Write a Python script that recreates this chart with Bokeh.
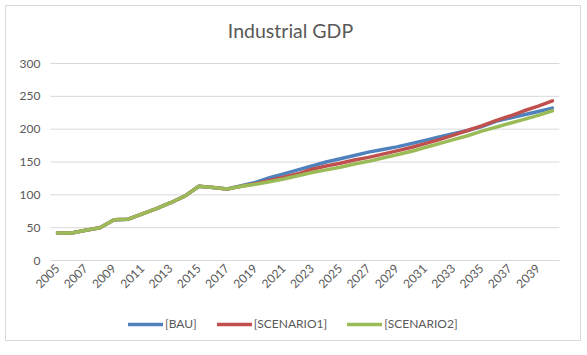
import math
from bokeh.plotting import figure
from bokeh.models import Legend, LegendItem, FixedTicker, Range1d, Label
from bokeh.embed import file_html
from bokeh.resources import INLINE

years = list(range(2005, 2041))
bau = [42, 42, 46, 50, 62, 63, 71, 79, 88, 98, 113, 111, 109,
       114, 119, 126, 132, 138, 144, 150, 155, 160, 165, 169, 173,
       178, 183, 188, 193, 198, 204, 212, 217, 222, 227, 232]
scenario1 = [42, 42, 46, 50, 62, 63, 71, 79, 88, 98, 113, 111, 109,
             113, 117, 122, 127, 132, 139, 144, 148, 153, 157, 162, 167,
             172, 178, 184, 191, 198, 205, 213, 220, 228, 235, 243]
scenario2 = [42, 42, 46, 50, 62, 63, 71, 79, 88, 98, 113, 111, 109,
             113, 116, 120, 124, 129, 134, 138, 142, 147, 151, 156, 161,
             166, 172, 178, 184, 190, 197, 203, 209, 215, 221, 228]
series_names = ["[BAU]", "[SCENARIO1]", "[SCENARIO2]"]
colors = ["#4f81bd", "#c0504d", "#9bbb59"]
x_ticks = list(range(2005, 2040, 2))
y_ticks = [0, 50, 100, 150, 200, 250, 300]
title_text = "Industrial GDP"

FONT = "Lato"
TXT = "#595959"

# plot area: categories 2005..2040 (half a slot each side), values 0..300
X0, X1 = years[0] - 0.5, years[-1] + 0.5
PX_PER_YEAR = 509 / len(years)
PX_PER_UNIT = 197 / 300
# frame covers the whole chart so that labels, legend and title sit inside it
x_range = Range1d(years[0] - 51 / PX_PER_YEAR, years[0] + 523 / PX_PER_YEAR)
y_range = Range1d(-80 / PX_PER_UNIT, 254 / PX_PER_UNIT)

p = figure(frame_width=574, frame_height=334, output_backend="svg", toolbar_location=None,
           x_range=x_range, y_range=y_range,
           min_border_left=0, min_border_right=0, min_border_top=0, min_border_bottom=0)
p.styles = {"margin-left": "5px", "margin-top": "5px", "border": "1px solid #d9d9d9"}

p.outline_line_color = None
p.background_fill_color = "white"
p.border_fill_color = "white"

p.xaxis.fixed_location = 0
p.xaxis.bounds = (X0, X1)
p.xaxis.ticker = FixedTicker(ticks=x_ticks)
p.xaxis.major_label_orientation = math.pi / 4
p.xaxis.major_tick_line_color = None
p.xaxis.minor_tick_line_color = None
p.xaxis.major_tick_out = 0
p.xaxis.major_tick_in = 0
p.xaxis.axis_line_color = "#d9d9d9"
p.xaxis.major_label_text_font = FONT
p.xaxis.major_label_text_font_size = "12px"
p.xaxis.major_label_text_color = TXT
p.xaxis.major_label_standoff = 6

p.yaxis.fixed_location = X0
p.yaxis.bounds = (y_ticks[0], y_ticks[-1])
p.yaxis.ticker = FixedTicker(ticks=y_ticks)
p.yaxis.major_tick_line_color = None
p.yaxis.minor_tick_line_color = None
p.yaxis.major_tick_out = 0
p.yaxis.major_tick_in = 0
p.yaxis.axis_line_color = None
p.yaxis.major_label_text_font = FONT
p.yaxis.major_label_text_font_size = "12px"
p.yaxis.major_label_text_color = TXT
p.yaxis.major_label_standoff = 10

p.xgrid.grid_line_color = None
p.ygrid.grid_line_color = None
# horizontal gridlines limited to the plot area
p.segment(x0=[X0] * len(y_ticks), x1=[X1] * len(y_ticks), y0=y_ticks, y1=y_ticks,
          line_color="#d9d9d9", line_width=1)

renderers = []
for name, vals, c in zip(series_names, [bau, scenario1, scenario2], colors):
    r = p.line(years, vals, line_color=c, line_width=3.5, line_join="round", line_cap="round")
    renderers.append(r)

title = Label(x=years[0] + 233 / PX_PER_YEAR, y=230 / PX_PER_UNIT, text=title_text,
              text_align="center", text_baseline="middle",
              text_font=FONT, text_font_size="19.5px", text_color=TXT)
p.add_layout(title)

legend = Legend(items=[LegendItem(label=n, renderers=[r]) for n, r in zip(series_names, renderers)],
                orientation="horizontal", location=(122, 9),
                label_text_font=FONT, label_text_font_size="12px", label_text_color=TXT,
                glyph_width=35, glyph_height=10, spacing=20, label_standoff=2,
                border_line_color=None, background_fill_alpha=0, padding=2, margin=0)
p.add_layout(legend, "center")

open("out.html", "w").write(file_html(p, INLINE))
